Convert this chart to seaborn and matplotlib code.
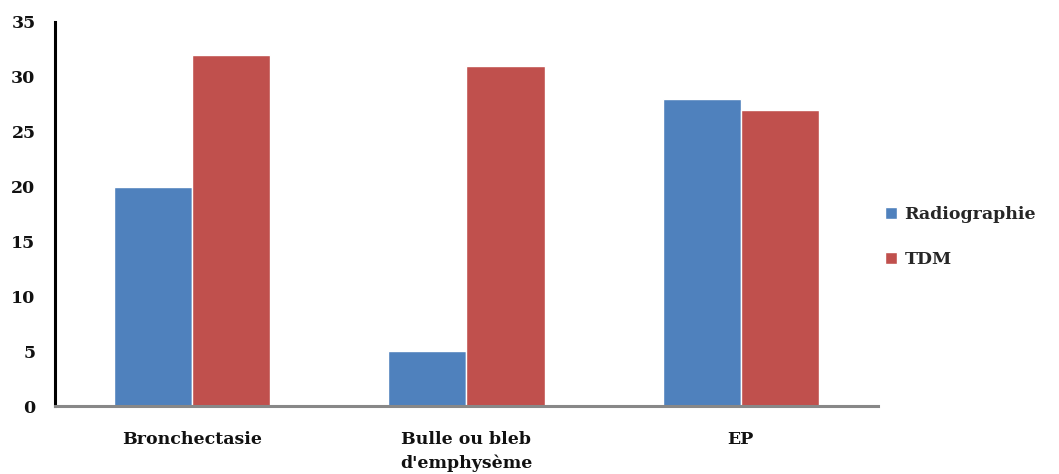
import matplotlib
matplotlib.use("Agg")
import matplotlib.pyplot as plt
import seaborn as sns
import pandas as pd

categories = ["Bronchectasie", "Bulle ou bleb\nd'emphysème", "EP"]
radiographie = [20, 5, 28]
tdm = [32, 31, 27]
series_names = ["Radiographie", "TDM"]
palette = ["#4F81BD", "#C0504D"]
y_ticks = [0, 5, 10, 15, 20, 25, 30, 35]

df = pd.DataFrame({
    "cat": categories * 2,
    "val": radiographie + tdm,
    "serie": [series_names[0]] * 3 + [series_names[1]] * 3,
})

sns.set_style("white")
plt.rcParams["font.family"] = ["DejaVu Serif"]
plt.rcParams["font.weight"] = "bold"

fig = plt.figure(figsize=(10.59, 4.74), dpi=100)
ax = fig.add_axes([0.052, 0.143, 0.777, 0.811])

sns.barplot(data=df, x="cat", y="val", hue="serie", palette=palette,
            width=0.57, saturation=1, ax=ax, order=categories,
            hue_order=series_names)

ax.set_ylim(0, 35)
ax.set_yticks(y_ticks)
ax.set_xlim(-0.5, 2.5)
ax.set_xlabel("")
ax.set_ylabel("")
ax.tick_params(axis="both", length=0, labelsize=12.5)
ax.tick_params(axis="y", pad=14)
ax.tick_params(axis="x", pad=18)
for lab in ax.get_xticklabels() + ax.get_yticklabels():
    lab.set_fontweight("bold")
    lab.set_color("#111111")
for lab in ax.get_xticklabels():
    lab.set_linespacing(1.5)

for s in ["top", "right"]:
    ax.spines[s].set_visible(False)
ax.spines["left"].set_color("black")
ax.spines["left"].set_linewidth(2.2)
ax.spines["bottom"].set_color("#888888")
ax.spines["bottom"].set_linewidth(2.2)

leg = ax.legend(loc="center left", bbox_to_anchor=(0.99, 0.44), frameon=False,
                handlelength=0.7, handleheight=0.7, handletextpad=0.4,
                labelspacing=1.6, prop={"size": 12.5, "weight": "bold"})

fig.savefig("out.png", dpi=100)
